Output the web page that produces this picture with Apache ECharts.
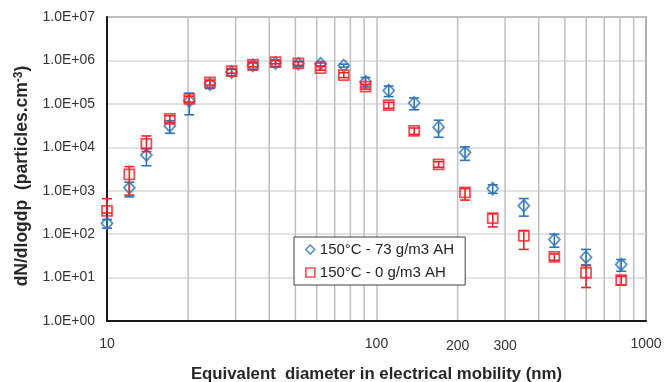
<!DOCTYPE html>
<html><head><meta charset="utf-8">
<script src="https://cdn.jsdelivr.net/npm/echarts@6/dist/echarts.min.js"></script>
<style>html,body{margin:0;padding:0;background:#fff}#c{width:667px;height:382px}</style>
</head><body><div id="c"></div>
<script>
// Equivalent diameter (nm)
const diameters = [10, 12.1, 14.0, 17.1, 20.2, 24.1, 29.0, 34.8, 42.2, 51.3, 62.0, 75.6, 91.1, 111, 138, 170, 213, 270, 352, 457, 599, 809];
// 150°C - 73 g/m3 AH
const ah73Values   = [177, 1170, 6650, 31000, 117000, 285000, 538000, 765000, 869000, 837000, 837000, 760000, 325000, 202000, 105000, 29000, 7600, 1120, 450, 75, 29.5, 20];
const ah73ErrPlus  = [40, 400, 2900, 10000, 60000, 60000, 100000, 150000, 150000, 120000, 100000, 60000, 80000, 55000, 32000, 13000, 2600, 250, 210, 25, 15, 6];
const ah73ErrMinus = [40, 450, 2900, 10000, 61000, 60000, 100000, 150000, 150000, 120000, 100000, 60000, 80000, 55000, 32000, 12000, 2600, 250, 190, 25, 10, 6];
// 150°C - 0 g/m3 AH
const ah0Values    = [345, 2390, 11950, 45100, 130000, 310000, 568000, 795000, 917000, 851000, 666000, 461000, 249000, 93800, 23800, 4060, 918, 234, 91.5, 30, 12.9, 8.7];
const ah0ErrPlus   = [310, 1200, 6300, 8000, 20000, 40000, 60000, 80000, 80000, 80000, 70000, 60000, 30000, 15000, 4000, 600, 200, 60, 30, 5, 6, 2];
const ah0ErrMinus  = [40, 1600, 4000, 8000, 20000, 40000, 60000, 80000, 80000, 80000, 70000, 60000, 30000, 15000, 4000, 600, 310, 87, 47, 5, 7, 2];
// Minor vertical gridlines and extra x labels
const gridLinesX = [20, 30, 40, 50, 60, 70, 80, 90, 200, 300, 400, 500, 600, 700, 800, 900];
const extraXLabels = [200, 300];
const seriesNames = ['150°C - 73 g/m3 AH', '150°C - 0 g/m3 AH'];

const FONT = 'Liberation Sans';
const BLUE = '#2e75b6', RED = '#f0222a';

function pts(vals){ return diameters.map((d,i)=>[d, vals[i]]); }
function errData(vals, plus, minus){ return diameters.map((d,i)=>[d, vals[i]-minus[i], vals[i]+plus[i]]); }
function errSeries(name, data, color, z){
  return {type:'custom', name, data, z, silent:true, encode:{x:0, y:[1,2]},
    renderItem(params, api){
      const x = api.value(0), lo = api.value(1), hi = api.value(2);
      const p1 = api.coord([x, hi]), p2 = api.coord([x, lo]);
      const w = 5;
      const st = {stroke:color, lineWidth:1.6};
      return {type:'group', children:[
        {type:'line', shape:{x1:p1[0], y1:p1[1], x2:p2[0], y2:p2[1]}, style:st},
        {type:'line', shape:{x1:p1[0]-w, y1:p1[1], x2:p1[0]+w, y2:p1[1]}, style:st},
        {type:'line', shape:{x1:p2[0]-w, y1:p2[1], x2:p2[0]+w, y2:p2[1]}, style:st}
      ]};
    }};
}

const chart = echarts.init(document.getElementById('c'), null, {renderer:'canvas'});
chart.setOption({
  animation:false,
  backgroundColor:'#fff',
  grid:{left:107, top:17, right:21, bottom:61, containLabel:false, outerBoundsMode:'none',
    show:true, borderColor:'#404040', borderWidth:1.3, backgroundColor:'transparent'},
  legend:{
    left:294, top:237, orient:'vertical', backgroundColor:'#fff', borderColor:'#404040', borderWidth:1,
    padding:[5,11,5,11], itemGap:8, itemWidth:9, itemHeight:9,
    textStyle:{fontFamily:FONT, fontSize:15, color:'#262626'},
    data:[
      {name:seriesNames[0], icon:'diamond', itemStyle:{color:'rgba(0,0,0,0)', borderColor:BLUE, borderWidth:1.6}},
      {name:seriesNames[1], icon:'rect', itemStyle:{color:'rgba(0,0,0,0)', borderColor:RED, borderWidth:1.6}}
    ]
  },
  xAxis:{
    type:'log', logBase:10, min:10, max:1000,
    name:'Equivalent  diameter in electrical mobility (nm)', nameLocation:'middle', nameGap:45,
    nameTextStyle:{fontFamily:FONT, fontSize:16.8, fontWeight:'bold', color:'#262626'},
    axisLine:{show:true, lineStyle:{color:'#1a1a1a', width:2}},
    axisTick:{show:false},
    axisLabel:{fontFamily:FONT, fontSize:14, color:'#333', margin:16, formatter:v=>String(Math.round(v))},
    splitLine:{show:true, lineStyle:{color:'#bfbfbf', width:1.5}},
    minorTick:{show:false}, minorSplitLine:{show:false}
  },
  yAxis:{
    type:'log', logBase:10, min:1, max:1e7,
    name:'dN/dlogdp  (particles.cm{sup|-3})', nameLocation:'middle', nameGap:72,
    nameTextStyle:{fontFamily:FONT, fontSize:17.5, fontWeight:'bold', color:'#262626', padding:[0,14,0,0],
      rich:{sup:{fontFamily:FONT, fontSize:12, fontWeight:'bold', color:'#262626', verticalAlign:'top', padding:[0,0,8,0]}}},
    axisLine:{show:true, lineStyle:{color:'#1a1a1a', width:2}},
    axisTick:{show:false},
    axisLabel:{fontFamily:FONT, fontSize:14, color:'#333', margin:12,
      formatter:v=>{const e=Math.round(Math.log10(v)); return '1.0E+'+(e<10?'0':'')+e;}},
    splitLine:{show:true, lineStyle:{color:'#d9d9d9', width:1.5}}
  },
  series:[
    {type:'custom', name:'gridlines', silent:true, z:0, data:gridLinesX.map(v=>[v]), encode:{x:0},
      renderItem(params, api){
        const x = api.value(0);
        const a = api.coord([x, 1]), b = api.coord([x, 1e7]);
        return {type:'line', shape:{x1:a[0], y1:a[1], x2:b[0], y2:b[1]}, style:{stroke:'#bfbfbf', lineWidth:1.5}};
      }},
    {type:'custom', name:'extralabels', silent:true, z:1, data:extraXLabels.map(v=>[v]), encode:{x:0},
      renderItem(params, api){
        const x = api.value(0);
        const a = api.coord([x, 1]);
        return {type:'text', style:{text:String(x), x:a[0], y:a[1]+25, textAlign:'center', textVerticalAlign:'middle', align:'center', verticalAlign:'middle', font:'14px "Liberation Sans"', fill:'#333'}};
      }},
    errSeries('err73', errData(ah73Values, ah73ErrPlus, ah73ErrMinus), BLUE, 2),
    {type:'scatter', name:seriesNames[0], data:pts(ah73Values), z:3, symbol:'diamond', symbolSize:[11,12],
      itemStyle:{color:'rgba(0,0,0,0)', borderColor:BLUE, borderWidth:1.8}},
    errSeries('err0', errData(ah0Values, ah0ErrPlus, ah0ErrMinus), RED, 4),
    {type:'scatter', name:seriesNames[1], data:pts(ah0Values), z:5, symbol:'rect', symbolSize:10,
      itemStyle:{color:'rgba(0,0,0,0)', borderColor:RED, borderWidth:1.8}}
  ]
});
</script>
</body></html>
